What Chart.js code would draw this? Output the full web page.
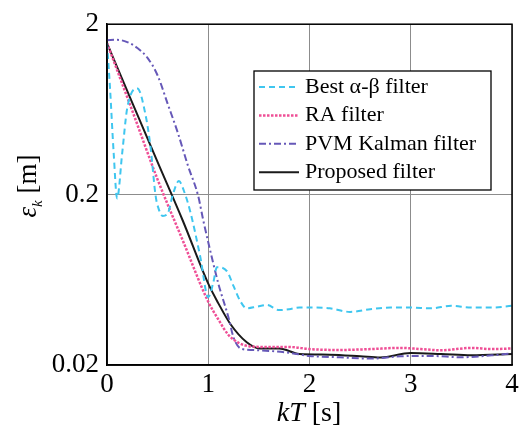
<!DOCTYPE html>
<html>
<head>
<meta charset="utf-8">
<script src="https://cdn.jsdelivr.net/npm/chart.js@4.4.0/dist/chart.umd.min.js"></script>
<style>
html, body { margin: 0; padding: 0; background: #fff; }
#wrap { width: 523px; height: 428px; }
</style>
</head>
<body>
<div id="wrap"><canvas id="errChart" width="523" height="428"></canvas></div>
<script>
// series labels
const seriesNames = ['Best \u03b1-\u03b2 filter', 'RA filter', 'PVM Kalman filter', 'Proposed filter'];

// Best alpha-beta filter
const abTime = [0, 0.03, 0.066, 0.1, 0.15, 0.2, 0.3, 0.38, 0.43, 0.48, 0.51, 0.55, 0.6, 0.65, 0.71, 0.76, 0.82, 0.92, 1.0, 1.05, 1.085, 1.185, 1.25, 1.32, 1.38, 1.48, 1.58, 1.7, 1.8, 1.9, 2.0, 2.2, 2.4, 2.6, 2.8, 3.0, 3.2, 3.4, 3.6, 3.8, 4.0];
const abErr  = [1.55, 0.84, 0.35, 0.19, 0.35, 0.645, 0.84, 0.59, 0.38, 0.197, 0.165, 0.15, 0.155, 0.2, 0.24, 0.21, 0.161, 0.087, 0.05, 0.061, 0.075, 0.071, 0.058, 0.047, 0.043, 0.044, 0.045, 0.042, 0.0425, 0.0435, 0.0435, 0.043, 0.041, 0.0425, 0.0435, 0.0435, 0.043, 0.0445, 0.0435, 0.0435, 0.0445];

// RA filter
const raTime = [0, 0.25, 0.5, 0.75, 1.0, 1.1, 1.2, 1.3, 1.4, 1.6, 1.8, 2.0, 2.3, 2.6, 2.9, 3.1, 3.3, 3.6, 3.8, 4.0];
const raErr  = [1.55, 0.62, 0.245, 0.107, 0.047, 0.037, 0.03, 0.027, 0.0258, 0.0255, 0.0255, 0.0248, 0.0245, 0.0248, 0.0252, 0.0248, 0.0244, 0.0252, 0.0248, 0.025];

// PVM Kalman filter
const kfTime = [0, 0.1, 0.2, 0.3, 0.4, 0.5, 0.6, 0.7, 0.8, 0.9, 0.95, 1.0, 1.1, 1.2, 1.25, 1.32, 1.44, 1.6, 1.8, 2.0, 2.3, 2.6, 2.9, 3.2, 3.5, 3.8, 4.0];
const kfErr  = [1.61, 1.62, 1.57, 1.45, 1.27, 1.0, 0.68, 0.46, 0.295, 0.197, 0.142, 0.105, 0.06, 0.038, 0.029, 0.025, 0.0245, 0.0242, 0.0236, 0.0226, 0.0222, 0.0218, 0.0225, 0.0226, 0.0222, 0.0228, 0.0234];

// Proposed filter
const prTime = [0, 0.25, 0.5, 0.75, 1.0, 1.1, 1.22, 1.38, 1.51, 1.7, 1.9, 2.2, 2.5, 2.7, 3.0, 3.3, 3.6, 4.0];
const prErr  = [1.55, 0.69, 0.31, 0.14, 0.06, 0.046, 0.0347, 0.0272, 0.025, 0.025, 0.0232, 0.023, 0.0225, 0.0221, 0.0235, 0.0232, 0.0228, 0.0232];

const xTicks = [0, 1, 2, 3, 4];
const yTicks = [0.02, 0.2, 2];
const yTickLabels = ['0.02', '0.2', '2'];

const serif = '"Liberation Serif", "Times New Roman", serif';

function pts(t, v) {
    return t.map((x, i) => ({ x: x, y: v[i] }));
}

// frame, axis titles and the boxed legend
const decor = {
    id: 'decor',
    afterDatasetsDraw(chart) {
        const ctx = chart.ctx;
        const a = chart.chartArea;
        ctx.save();
        ctx.strokeStyle = '#000';
        ctx.lineWidth = 1.5;
        ctx.strokeRect(a.left, a.top, a.right - a.left, a.bottom - a.top);

        // legend box
        const bx = 254, by = 71, bw = 237, bh = 119;
        ctx.fillStyle = '#fff';
        ctx.fillRect(bx, by, bw, bh);
        ctx.lineWidth = 1.3;
        ctx.strokeRect(bx, by, bw, bh);
        ctx.font = '22px ' + serif;
        ctx.textBaseline = 'middle';
        chart.data.datasets.forEach((ds, i) => {
            const y = 87 + i * 28.4;
            ctx.beginPath();
            ctx.strokeStyle = ds.borderColor;
            ctx.lineWidth = ds.borderWidth;
            ctx.setLineDash(ds.borderDash || []);
            ctx.moveTo(259, y);
            ctx.lineTo(299, y);
            ctx.stroke();
            ctx.setLineDash([]);
            ctx.fillStyle = '#000';
            ctx.fillText(ds.label, 305, y);
        });
        ctx.restore();
    },
    afterDraw(chart) {
        const ctx = chart.ctx;
        ctx.save();
        ctx.fillStyle = '#000';
        ctx.textBaseline = 'alphabetic';
        // x title: kT [s]
        ctx.font = 'italic 28px ' + serif;
        const w1 = ctx.measureText('kT').width;
        ctx.font = '28px ' + serif;
        const w2 = ctx.measureText(' [s]').width;
        let x0 = 309 - (w1 + w2) / 2;
        ctx.font = 'italic 28px ' + serif;
        ctx.fillText('kT', x0, 421);
        ctx.font = '28px ' + serif;
        ctx.fillText(' [s]', x0 + w1, 421);

        // y title: eps_k [m]
        ctx.translate(36, 186);
        ctx.rotate(-Math.PI / 2);
        ctx.font = 'italic 27px ' + serif;
        const e1 = ctx.measureText('\u03b5').width;
        ctx.font = 'italic 15px ' + serif;
        const e2 = ctx.measureText('k').width;
        ctx.font = '27px ' + serif;
        const e3 = ctx.measureText(' [m]').width;
        let s = -(e1 + e2 + e3) / 2;
        ctx.font = 'italic 27px ' + serif;
        ctx.fillText('\u03b5', s, 0);
        ctx.font = 'italic 15px ' + serif;
        ctx.fillText('k', s + e1, 6);
        ctx.font = '27px ' + serif;
        ctx.fillText(' [m]', s + e1 + e2, 0);
        ctx.restore();
    }
};

const ctx = document.getElementById('errChart').getContext('2d');
new Chart(ctx, {
    type: 'line',
    data: {
        datasets: [
            {
                label: seriesNames[0],
                data: pts(abTime, abErr),
                borderColor: '#3fc6ef',
                borderWidth: 2,
                borderDash: [6, 4]
            },
            {
                label: seriesNames[1],
                data: pts(raTime, raErr),
                borderColor: '#ef4f96',
                borderWidth: 2.5,
                borderDash: [2.5, 1.5]
            },
            {
                label: seriesNames[2],
                data: pts(kfTime, kfErr),
                borderColor: '#6658b8',
                borderWidth: 2,
                borderDash: [7, 3, 2, 3]
            },
            {
                label: seriesNames[3],
                data: pts(prTime, prErr),
                borderColor: '#1a1a1a',
                borderWidth: 2
            }
        ]
    },
    options: {
        responsive: false,
        animation: false,
        layout: { padding: { top: 16, right: 11, left: 0, bottom: 0 } },
        elements: {
            point: { radius: 0 },
            line: { fill: false, cubicInterpolationMode: 'monotone' }
        },
        plugins: {
            legend: { display: false },
            tooltip: { enabled: false }
        },
        scales: {
            x: {
                type: 'linear',
                min: 0,
                max: 4,
                afterBuildTicks: s => { s.ticks = xTicks.map(v => ({ value: v })); },
                afterFit: s => { s.height = 63; },
                ticks: {
                    color: '#000',
                    font: { family: serif, size: 27 },
                    padding: 4,
                    maxRotation: 0
                },
                grid: { color: '#8c8c8c', lineWidth: 1, drawTicks: false },
                border: { color: '#000', width: 1.5 }
            },
            y: {
                type: 'logarithmic',
                min: 0.02,
                max: 2,
                afterBuildTicks: s => { s.ticks = yTicks.map(v => ({ value: v })); },
                afterFit: s => { s.width = 107; },
                ticks: {
                    color: '#000',
                    font: { family: serif, size: 27 },
                    padding: 8,
                    callback: (v, i) => yTickLabels[i]
                },
                grid: { color: '#8c8c8c', lineWidth: 1, drawTicks: false },
                border: { color: '#000', width: 1.5 }
            }
        }
    },
    plugins: [decor]
});
</script>
</body>
</html>
